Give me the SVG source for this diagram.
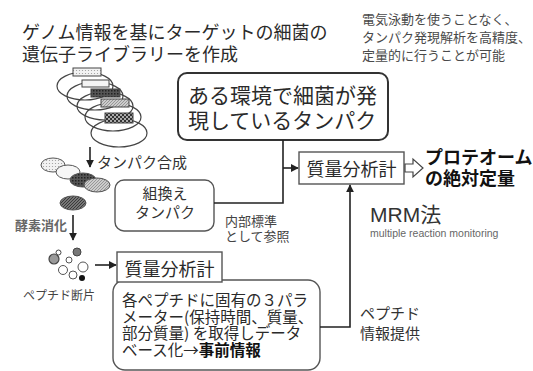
<svg xmlns="http://www.w3.org/2000/svg" width="533" height="371" viewBox="0 0 533 371">
  <defs>
    <style>
      text { font-family: "Noto Sans CJK JP", "Liberation Sans", sans-serif; fill: #2a2a2a; }
      .title { font-size: 18px; }
      .note { font-size: 13px; fill: #4a4a4a; }
      .big { font-size: 21px; }
      .lab { font-size: 15px; fill: #333; }
      .small { font-size: 13px; fill: #444; }
      .db { font-size: 15.5px; }
      .box { fill: #fff; stroke: #555; stroke-width: 1.4; }
      .boxd { fill: #fff; stroke: #333; stroke-width: 2; }
      .conn { fill: none; stroke: #222; stroke-width: 1.6; }
      .ell { fill: none; stroke: #444; stroke-width: 1.2; }
      .ins { stroke: #444; stroke-width: 1; }
      .blob { stroke: #555; stroke-width: 1; }
    </style>
    <marker id="ah" viewBox="0 0 10 10" refX="9" refY="5" markerWidth="5" markerHeight="5" orient="auto">
      <path d="M0,0 L10,5 L0,10 z" fill="#222"/>
    </marker>
    <pattern id="dots" width="3" height="3" patternUnits="userSpaceOnUse">
      <rect width="3" height="3" fill="#f2f2f2"/>
      <circle cx="1.5" cy="1.5" r="0.6" fill="#999"/>
    </pattern>
    <pattern id="dark" width="3" height="3" patternUnits="userSpaceOnUse">
      <rect width="3" height="3" fill="#555"/>
      <rect width="1.5" height="1.5" fill="#222"/>
    </pattern>
    <pattern id="hatch" width="3" height="3" patternUnits="userSpaceOnUse">
      <rect width="3" height="3" fill="#ccc"/>
      <path d="M0,3 L3,0" stroke="#888" stroke-width="0.8"/>
    </pattern>
    <pattern id="check" width="4" height="4" patternUnits="userSpaceOnUse">
      <rect width="4" height="4" fill="#aaa"/>
      <rect width="2" height="2" fill="#333"/>
      <rect x="2" y="2" width="2" height="2" fill="#333"/>
    </pattern>
    <pattern id="dhatch" width="3" height="3" patternUnits="userSpaceOnUse">
      <rect width="3" height="3" fill="#777"/>
      <path d="M0,3 L3,0" stroke="#333" stroke-width="0.9"/>
    </pattern>
  </defs>

  <rect width="533" height="371" fill="#fff"/>

  <!-- heading -->
  <g id="heading">
    <text class="title" x="22" y="39">ゲノム情報を基にターゲットの細菌の</text>
    <text class="title" x="22" y="61">遺伝子ライブラリーを作成</text>
  </g>

  <!-- note at upper right -->
  <g id="note">
    <text class="note" x="362" y="24">電気泳動を使うことなく、</text>
    <text class="note" x="362" y="42">タンパク発現解析を高精度、</text>
    <text class="note" x="362" y="60">定量的に行うことが可能</text>
  </g>

  <!-- gene library: plasmids with inserts -->
  <g id="library">
    <ellipse class="ell" cx="85" cy="86" rx="28" ry="14"/>
    <ellipse class="ell" cx="95" cy="96" rx="28" ry="14"/>
    <ellipse class="ell" cx="105" cy="106" rx="28" ry="14"/>
    <ellipse class="ell" cx="113" cy="117" rx="28" ry="14"/>
    <ellipse class="ell" cx="119" cy="133" rx="28" ry="14"/>
    <rect class="ins" x="73" y="68" width="28" height="8" fill="url(#dots)"/>
    <rect class="ins" x="82" y="80" width="27" height="7" fill="#f4f4f4"/>
    <rect class="ins" x="91" y="89" width="29" height="8" fill="url(#dark)"/>
    <rect class="ins" x="101" y="99" width="28" height="8" fill="url(#hatch)"/>
    <rect class="ins" x="105" y="113" width="28" height="10" fill="url(#check)"/>
  </g>

  <!-- synthesized proteins -->
  <g id="proteins">
    <ellipse class="blob" cx="53" cy="165" rx="12" ry="7" fill="url(#dots)"/>
    <ellipse class="blob" cx="68" cy="172" rx="12" ry="7" fill="#f6f6f6"/>
    <ellipse class="blob" cx="83" cy="180" rx="13" ry="7" fill="url(#dark)"/>
    <ellipse class="blob" cx="97" cy="185" rx="13" ry="7" fill="url(#hatch)"/>
    <ellipse class="blob" cx="73" cy="203" rx="13" ry="7" fill="url(#dhatch)"/>
  </g>
  <g id="synthesis-label">
    <text class="lab" x="97" y="168">タンパク合成</text>
  </g>
  <g id="digestion-label">
    <text class="small" x="15" y="230" style="font-weight:bold;fill:#666">酵素消化</text>
  </g>

  <!-- peptide fragments -->
  <g id="peptides">
    <circle cx="54" cy="259" r="5" fill="#999" stroke="#444" stroke-width="1.2"/>
    <circle cx="58.5" cy="252.5" r="2.5" fill="#fff" stroke="#444" stroke-width="1"/>
    <circle cx="69" cy="260" r="3" fill="#fff" stroke="#555" stroke-width="1"/>
    <circle cx="77" cy="252" r="4" fill="#777" stroke="#444" stroke-width="1"/>
    <circle cx="83" cy="267" r="5" fill="#fff" stroke="#555" stroke-width="1"/>
    <circle cx="63" cy="270" r="4.5" fill="#fff" stroke="#555" stroke-width="1"/>
    <circle cx="73" cy="275" r="4" fill="#fff" stroke="#555" stroke-width="1"/>
    <circle cx="82" cy="278" r="3" fill="#111"/>
    <text x="23" y="300" style="font-size:12px;fill:#444">ペプチド断片</text>
  </g>

  <!-- expressed proteins -->
  <g id="expressed">
    <rect class="boxd" x="178" y="73" width="210" height="67" rx="9"/>
    <text class="big" x="188" y="103">ある環境で細菌が発</text>
    <text class="big" x="188" y="128">現しているタンパク</text>
  </g>

  <!-- recombinant protein -->
  <g id="recombinant">
    <rect class="box" x="115" y="180" width="99" height="51" rx="9"/>
    <text class="lab" x="165" y="199" text-anchor="middle">組換え</text>
    <text class="lab" x="165" y="218" text-anchor="middle">タンパク</text>
  </g>

  <!-- mass spectrometer (quantification) -->
  <g id="ms-main">
    <rect class="box" x="299" y="152" width="105" height="32"/>
    <text x="351.5" y="176" text-anchor="middle" style="font-size:18px">質量分析計</text>
  </g>

  <!-- result -->
  <g id="result">
    <path d="M405,164 H413 V159 L423,168 L413,177 V172 H405 z" fill="#fff" stroke="#444" stroke-width="1.2"/>
    <text x="425" y="164" style="font-size:18px;font-weight:bold;fill:#111">プロテオーム</text>
    <text x="425" y="185" style="font-size:18px;font-weight:bold;fill:#111">の絶対定量</text>
  </g>

  <!-- method -->
  <g id="method">
    <text x="370" y="222" style="font-family:'Liberation Sans','Noto Sans CJK JP',sans-serif;font-size:21px;fill:#333">MRM法</text>
    <text x="370" y="237" style="font-family:'Liberation Sans',sans-serif;font-size:10.5px;fill:#666">multiple reaction monitoring</text>
  </g>

  <!-- internal standard label -->
  <g id="standard-label">
    <text class="small" x="225" y="226">内部標準</text>
    <text class="small" x="225" y="241">として参照</text>
  </g>

  <!-- peptide database -->
  <g id="database">
    <rect class="box" x="113" y="280" width="207" height="90" rx="12"/>
    <text class="db" x="122" y="306">各ペプチドに固有の３パラ</text>
    <text class="db" x="122" y="322.5">メーター(保持時間、質量、</text>
    <text class="db" x="122" y="339">部分質量) を取得しデータ</text>
    <text class="db" x="122" y="355.5">ベース化→<tspan style="font-weight:bold;fill:#111">事前情報</tspan></text>
  </g>

  <!-- mass spectrometer (peptides) -->
  <g id="ms-peptide">
    <rect class="box" x="117" y="252" width="105" height="30"/>
    <text x="169.5" y="276" text-anchor="middle" style="font-size:18px">質量分析計</text>
  </g>

  <!-- peptide info label -->
  <g id="peptide-info-label">
    <text class="lab" x="360" y="319">ペプチド</text>
    <text class="lab" x="360" y="339">情報提供</text>
  </g>

  <!-- connectors -->
  <g id="connectors">
    <path class="conn" d="M283,140 V203 H214"/>
    <path class="conn" d="M283,168 H298" marker-end="url(#ah)"/>
    <path class="conn" d="M320,327 H350 V185" marker-end="url(#ah)"/>
    <path class="conn" d="M90,147 V167" marker-end="url(#ah)"/>
    <path class="conn" d="M73,215 V240" marker-end="url(#ah)"/>
    <path class="conn" d="M95,265 H116" marker-end="url(#ah)"/>
  </g>
</svg>
